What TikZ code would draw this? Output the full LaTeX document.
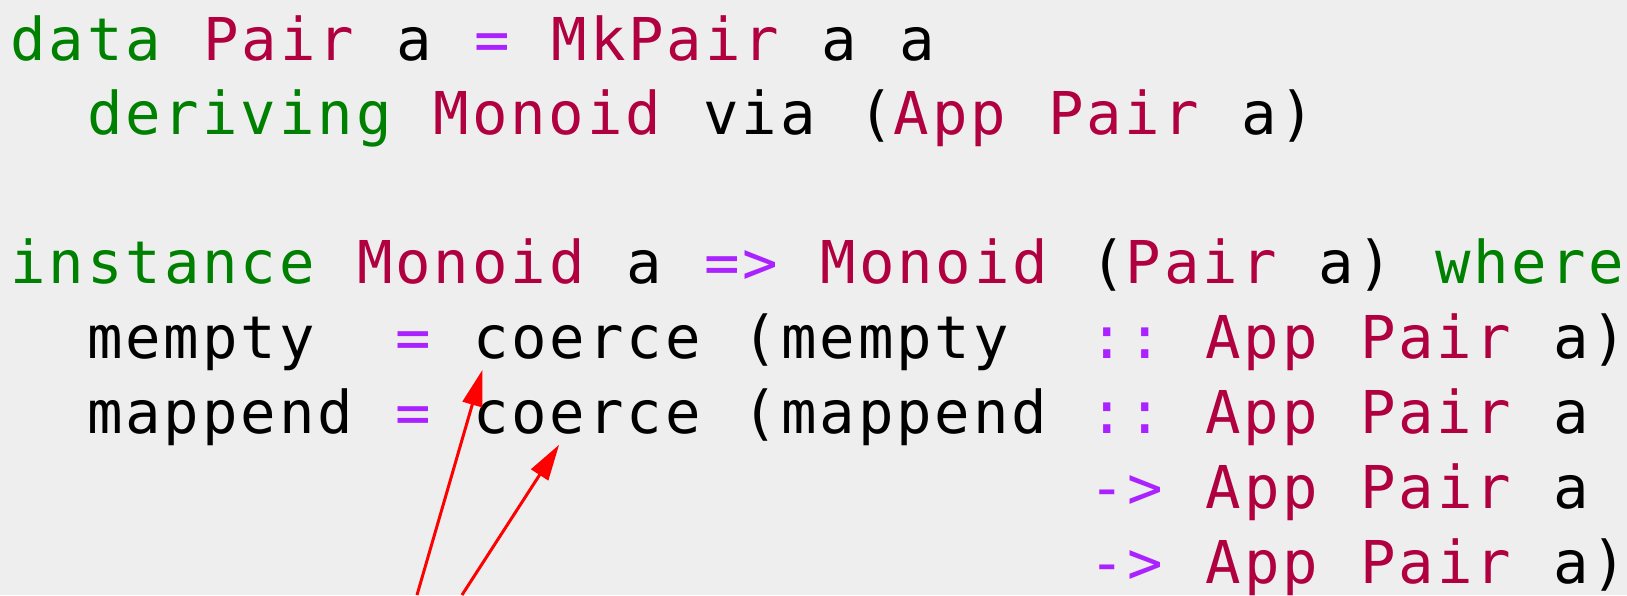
\documentclass[tikz,border=0pt]{standalone}
\usepackage{fontspec}
\setmonofont{DejaVu Sans Mono}[LetterSpace=4.9]
\usetikzlibrary{arrows.meta,calc}

\definecolor{hsgreen}{HTML}{008000}
\definecolor{hstype}{HTML}{B00040}
\definecolor{hsop}{HTML}{AA22FF}
\definecolor{codebg}{HTML}{EEEEEE}

% token colours
\newcommand\kw[1]{\textcolor{hsgreen}{#1}}
\newcommand\ty[1]{\textcolor{hstype}{#1}}
\newcommand\op[1]{\textcolor{hsop}{#1}}
% width of one column
\newcommand\cw{38.4}
% a space as wide as one letter (letter spacing included)
\newcommand\fixspaces{\fontdimen2\font=21.1pt\fontdimen3\font=0pt\fontdimen4\font=0pt\relax}
% one more blank column (indent, alignment)
\newcommand\pad{\hspace*{19.2pt}}

\tikzset{
  codeline/.style={anchor=base west, inner sep=0pt,
    font=\ttfamily\fontsize{29.5pt}{34pt}\selectfont\fixspaces},
  pointer/.style={red, line width=1.5pt,
    -{Triangle[length=18pt,width=10pt]}},
}

\begin{document}
\begin{tikzpicture}[x=0.5pt,y=0.5pt]
  \fill[codebg] (0,0) rectangle (1627,595);
  \useasboundingbox (0,0) rectangle (1627,595);

  % the data declaration
  \node[codeline] (l1) at (10,534.8)
    {\kw{data} \ty{Pair} a \op{=} \ty{MkPair} a a};
  \node[codeline] (l2) at (10,460.1)
    {\pad\pad\kw{deriving} \ty{Monoid} via (\ty{App} \ty{Pair} a)};

  % the instance
  \node[codeline] (l4) at (10,311.7)
    {\kw{instance} \ty{Monoid} a \op{=>} \ty{Monoid} (\ty{Pair} a) \kw{where}};
  \node[codeline] (l5) at (10,236)
    {\pad\pad mempty \pad\op{=} coerce (mempty \pad\op{::} \ty{App} \ty{Pair} a)};
  \node[codeline] (l6) at (10,161.3)
    {\pad\pad mappend \op{=} coerce (mappend \op{::} \ty{App} \ty{Pair} a};
  \node[codeline] (l7) at ({14+28*\cw},86.6)
    {\op{->} \ty{App} \ty{Pair} a};
  \node[codeline] (l8) at ({14+28*\cw},11.9)
    {\op{->} \ty{App} \ty{Pair} a)};

  % arrows to the two coerce calls
  \coordinate (tailA) at (417,0);
  \coordinate (tailB) at (462,0);
  \coordinate (tipA) at ($(l5.base west)+(12.3*\cw,-11)$);
  \coordinate (tipB) at ($(l6.base west)+(14.3*\cw,-11)$);
  \draw[pointer] (tailA) -- (tipA);
  \draw[pointer] (tailB) -- (tipB);
\end{tikzpicture}
\end{document}
